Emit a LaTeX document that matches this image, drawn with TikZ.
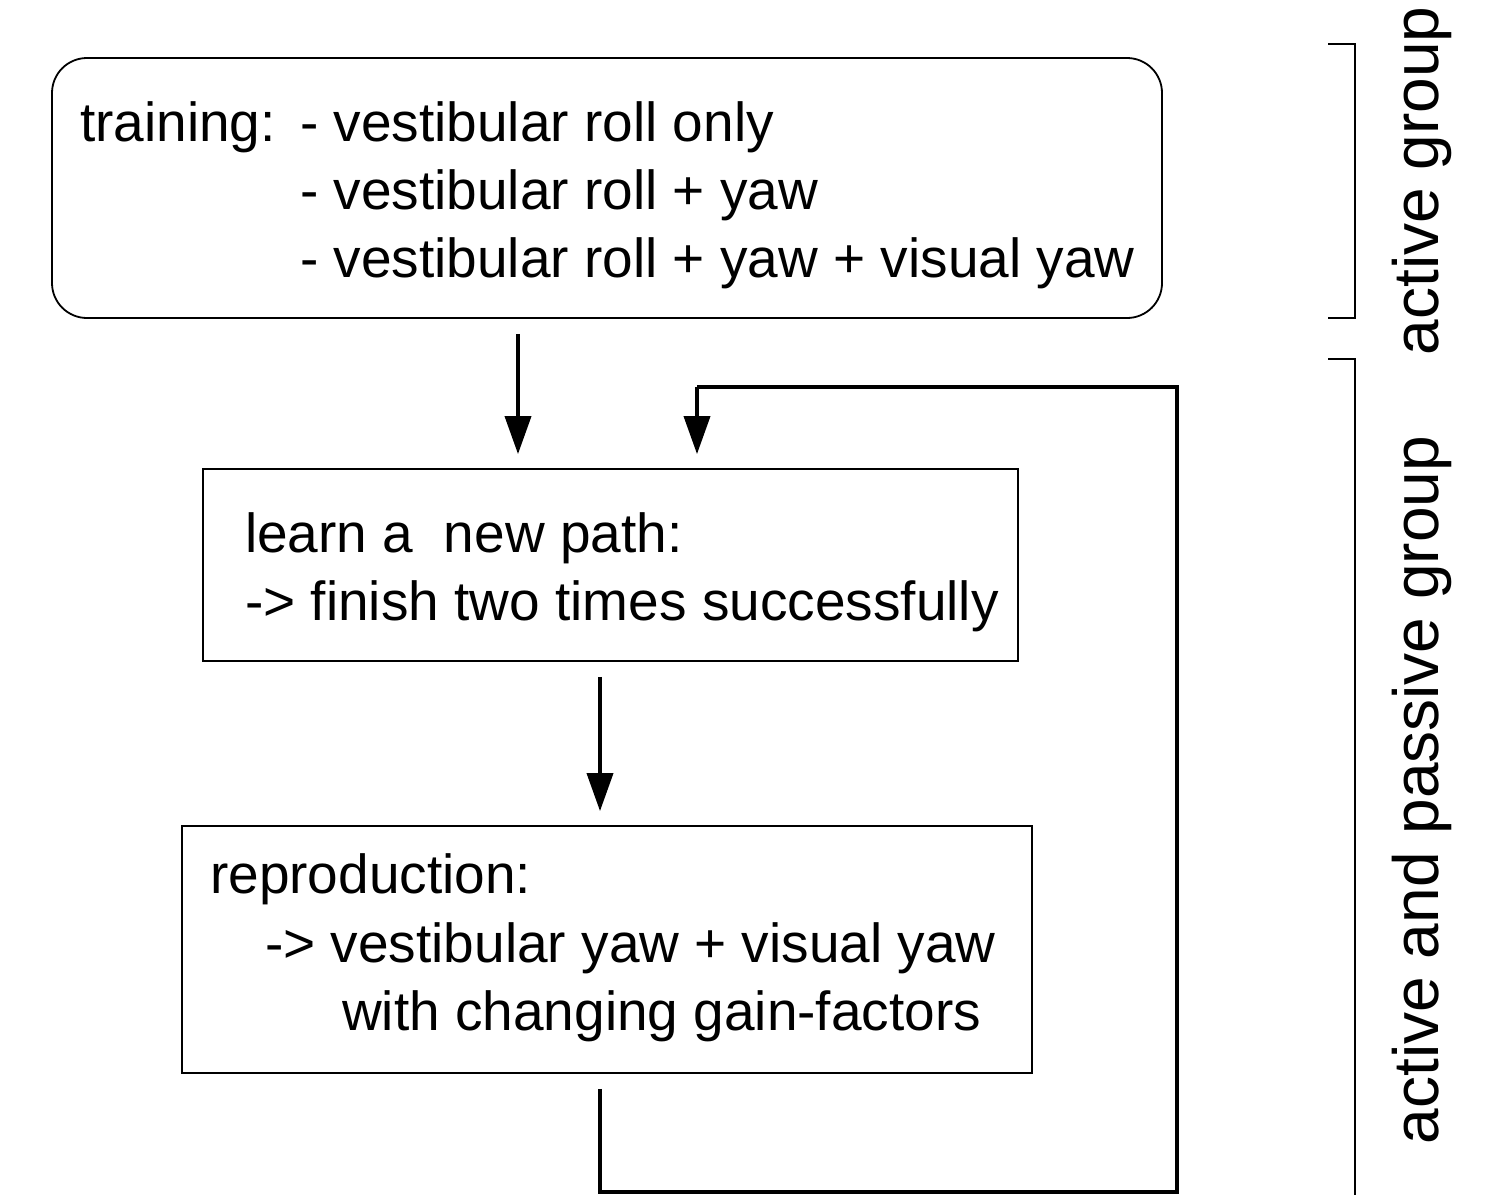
\documentclass[tikz,border=0pt]{standalone}
\usepackage{fontspec}
\setmainfont{Liberation Sans}
\usetikzlibrary{arrows.meta}
\begin{document}
\begin{tikzpicture}[x=1pt,y=-1pt,
  box/.style={draw, line width=1.8pt, inner sep=0pt},
  txt/.style={anchor=base west, inner sep=0pt, font=\fontsize{55}{60}\selectfont},
  side/.style={anchor=base, inner sep=0pt, rotate=90, font=\fontsize{64}{70}\selectfont},
  arr/.style={line width=3.8pt, -{Triangle[length=38pt,width=26pt]}},
  loopline/.style={line width=3.8pt},
  brk/.style={line width=1.8pt}]
\useasboundingbox (0,0) rectangle (1507,1195);
% boxes
\node[box, rounded corners=35pt, minimum width=1110pt, minimum height=260pt] (b1) at (607,188) {};
\node[box, minimum width=815pt, minimum height=192pt] (b2) at (610.5,565) {};
\node[box, minimum width=850pt, minimum height=247pt] (b3) at (607,949.5) {};
% texts
\node[txt] (t1) at (80,141) {training:};
\node[txt] (t2) at (300,141) {- vestibular roll only};
\node[txt] (t3) at (300,209) {- vestibular roll + yaw};
\node[txt] (t4) at (300,277) {- vestibular roll + yaw + visual yaw};
\node[txt] (t5) at (245,552) {learn a\ \ new path:};
\node[txt] (t6) at (245,620) {-> finish two times successfully};
\node[txt] (t7) at (210,893) {reproduction:};
\node[txt] (t8) at (265,962) {-> vestibular yaw + visual yaw};
\node[txt] (t9) at (342,1030) {with changing gain-factors};
% arrows
\coordinate (x1) at (518,0);
\coordinate (x2) at (600,0);
\coordinate (x3) at (697,0);
\coordinate (c1) at (600,1192);
\coordinate (c2) at (1177,1192);
\coordinate (c3) at (1177,387);
\coordinate (c4) at (697,387);
\draw[arr, shorten <=15pt, shorten >=14pt] (b1.south -| x1) -- (b2.north -| x1);
\draw[arr, shorten <=15pt, shorten >=14pt] (b2.south -| x2) -- (b3.north -| x2);
\draw[loopline, shorten <=15pt] (b3.south -| x2) -- (c1) -- (c2) -- (c3) -- (c4);
\draw[arr, shorten >=14pt] (c4) -- (b2.north -| x3);
% brackets
\coordinate (k1) at (1328,44);
\coordinate (k2) at (1355,44);
\coordinate (k3) at (1355,318);
\coordinate (k4) at (1328,318);
\coordinate (k5) at (1328,359);
\coordinate (k6) at (1355,359);
\coordinate (k7) at (1355,1195);
\draw[brk] (k1) -- (k2) -- (k3) -- (k4);
\draw[brk] (k5) -- (k6) -- (k7);
\node[side] (s1) at (1438,181) {active group};
\node[side] (s2) at (1438,790) {active and passive group};
\end{tikzpicture}
\end{document}
